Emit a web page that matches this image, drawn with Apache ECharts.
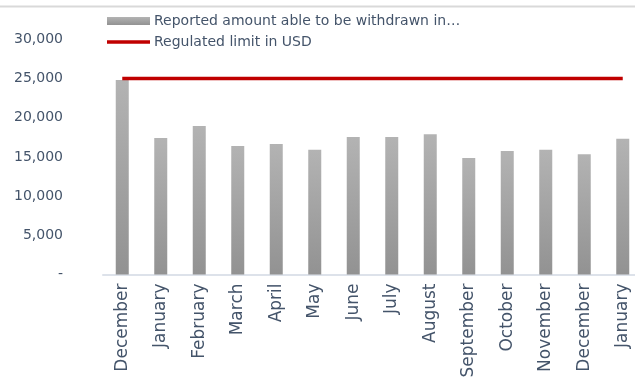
<!DOCTYPE html>
<html>
<head>
<meta charset="utf-8">
<script src="https://cdn.jsdelivr.net/npm/echarts@6/dist/echarts.min.js"></script>
<style>
  html, body { margin: 0; padding: 0; background: #fff; }
  #chart { width: 635px; height: 381px; }
</style>
</head>
<body>
<div id="chart"></div>
<script>
// Monthly categories along the x axis
const months = ['December', 'January', 'February', 'March', 'April', 'May', 'June',
  'July', 'August', 'September', 'October', 'November', 'December', 'January'];

// Reported amount able to be withdrawn (USD)
const reportedAmount = [24800, 17400, 18950, 16400, 16650, 15900, 17550,
  17550, 17900, 14850, 15750, 15900, 15350, 17300];

// Regulated limit (USD), flat across the period
const regulatedLimit = [25000, 25000, 25000, 25000, 25000, 25000, 25000,
  25000, 25000, 25000, 25000, 25000, 25000, 25000];

const seriesNames = ['Reported amount able to be withdrawn in\u2026', 'Regulated limit in USD'];

const textColor = '#44546a';
const fontFamily = '"DejaVu Sans", sans-serif';

const chart = echarts.init(document.getElementById('chart'), null, { renderer: 'canvas' });

chart.setOption({
  animation: false,
  backgroundColor: '#ffffff',
  graphic: [{
    type: 'rect',
    shape: { x: 0, y: 5.5, width: 635, height: 2 },
    style: { fill: '#d9d9d9' },
    silent: true
  }],
  legend: {
    orient: 'vertical',
    left: 107,
    top: 14,
    itemWidth: 43,
    itemHeight: 8,
    itemGap: 7,
    padding: 0,
    textStyle: { color: textColor, fontSize: 14, fontFamily: fontFamily, padding: [0, 0, 0, -1] },
    data: [
      { name: seriesNames[0], icon: 'rect' },
      { name: seriesNames[1], icon: 'path://M0,0h43v3.5h-43z' }
    ]
  },
  grid: {
    left: 103,
    top: 39.3,
    bottom: 106.5,
    width: 539,
    containLabel: false,
    outerBoundsMode: 'none'
  },
  xAxis: {
    type: 'category',
    data: months,
    boundaryGap: true,
    axisLine: { show: true, lineStyle: { color: '#dde2ea', width: 2 } },
    axisTick: { show: false },
    axisLabel: {
      rotate: 90,
      interval: 0,
      margin: 9,
      color: textColor,
      fontSize: 17,
      fontFamily: fontFamily
    }
  },
  yAxis: {
    type: 'value',
    min: 0,
    max: 30000,
    interval: 5000,
    axisLine: { show: false },
    axisTick: { show: false },
    splitLine: { show: false },
    axisLabel: {
      margin: 40,
      color: textColor,
      fontSize: 14,
      fontFamily: fontFamily,
      formatter: function (v) {
        return v === 0 ? '-' : v.toLocaleString('en-US');
      }
    }
  },
  series: [
    {
      name: seriesNames[0],
      type: 'bar',
      data: reportedAmount,
      barWidth: 13,
      itemStyle: {
        color: new echarts.graphic.LinearGradient(0, 0, 0, 1, [
          { offset: 0, color: '#b3b3b3' },
          { offset: 1, color: '#929292' }
        ])
      }
    },
    {
      name: seriesNames[1],
      type: 'line',
      data: regulatedLimit,
      symbol: 'none',
      lineStyle: { color: '#c00000', width: 3.5 },
      itemStyle: { color: '#c00000' },
      z: 5
    }
  ]
});
</script>
</body>
</html>
